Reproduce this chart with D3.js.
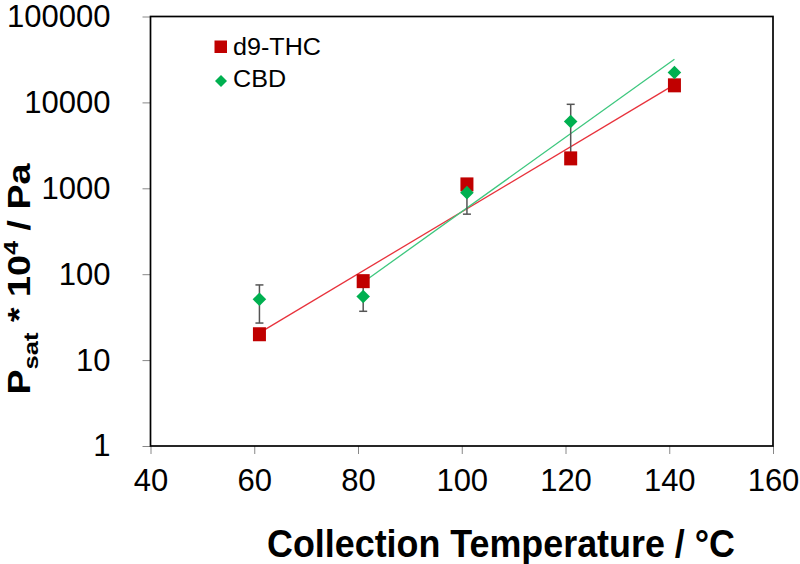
<!DOCTYPE html>
<html><head><meta charset="utf-8">
<script src="https://cdn.jsdelivr.net/npm/d3@7"></script>
<style>body{margin:0;background:#fff}svg{display:block;font-family:"Liberation Sans",Arial,sans-serif}</style>
</head><body>
<svg id="c" width="800" height="564"></svg>
<script>
const temps = [61, 81, 101, 121, 141];
const thcValues = [20, 83, 1110, 2230, 15800];
const cbdValues = [51, 55, 890, 6000, 22300];
const cbdErrors = [24, 18, 390, 3500, 0];
const cbdFitTemps = [81, 101, 121, 141];
const xTicks = [40, 60, 80, 100, 120, 140, 160];
const yTicks = [1, 10, 100, 1000, 10000, 100000];
const seriesNames = ["d9-THC", "CBD"];

const svg = d3.select("#c");
const L = 150.5, R = 773, T = 16.5, B = 446;
const x = d3.scaleLinear().domain([40, 160]).range([L, R]);
const y = d3.scaleLog().domain([1, 100000]).range([B, T]);

function fitWidth(inner, target) {
  const bb = inner.node().getBBox();
  return target / bb.width;
}

// ticks
const gx = svg.append("g").attr("transform", `translate(0,${B})`)
  .call(d3.axisBottom(x).tickValues(xTicks).tickSize(8).tickPadding(20).tickFormat(d3.format("d")));
const gy = svg.append("g").attr("transform", `translate(${L},0)`)
  .call(d3.axisLeft(y).tickValues(yTicks).tickSize(8).tickPadding(32).tickFormat(d3.format("d")));
[gx, gy].forEach(g => {
  g.select(".domain").remove();
  g.selectAll(".tick line").attr("stroke", "#888").attr("stroke-width", 1);
  g.selectAll(".tick text").attr("font-size", 31).attr("fill", "#000")
    .attr("font-family", "'Liberation Sans', Arial, sans-serif");
});
gx.selectAll(".tick text").attr("dy", "0.55em");

// frame
svg.append("rect").attr("x", L).attr("y", T).attr("width", R - L).attr("height", B - T)
  .attr("fill", "none").attr("stroke", "#000").attr("stroke-width", 1.7);

// regression (exponential fit = linear in log10)
function fit(xs, vs) {
  const ly = vs.map(v => Math.log10(v));
  const mx = d3.mean(xs), my = d3.mean(ly);
  const sxy = d3.sum(xs, (t, i) => (t - mx) * (ly[i] - my));
  const sxx = d3.sum(xs, t => (t - mx) ** 2);
  const b = sxy / sxx, a = my - b * mx;
  return t => Math.pow(10, a + b * t);
}
const thcFit = fit(temps, thcValues);
const cbdFitVals = cbdFitTemps.map(t => cbdValues[temps.indexOf(t)]);
const cbdFit = fit(cbdFitTemps, cbdFitVals);

const line = d3.line().x(d => x(d[0])).y(d => y(d[1]));
const tx = d3.extent(temps), cx = d3.extent(cbdFitTemps);
svg.append("path").attr("d", line(tx.map(t => [t, thcFit(t)])))
  .attr("stroke", "#E8323C").attr("stroke-width", 1.3).attr("fill", "none");
svg.append("path").attr("d", line(cx.map(t => [t, cbdFit(t)])))
  .attr("stroke", "#3DC77E").attr("stroke-width", 1.3).attr("fill", "none");

// error bars CBD
const eb = svg.append("g").attr("stroke", "#555").attr("stroke-width", 1.5);
temps.forEach((t, i) => {
  const e = cbdErrors[i];
  if (!e) return;
  const hi = y(cbdValues[i] + e), lo = y(Math.max(cbdValues[i] - e, 1));
  eb.append("line").attr("x1", x(t)).attr("x2", x(t)).attr("y1", hi).attr("y2", lo);
  [hi, lo].forEach(yy => eb.append("line").attr("x1", x(t) - 4).attr("x2", x(t) + 4).attr("y1", yy).attr("y2", yy));
});

// THC squares
svg.append("g").selectAll("rect").data(temps).join("rect")
  .attr("x", (t) => x(t) - 6.5).attr("y", (t, i) => y(thcValues[i]) - 7)
  .attr("width", 13).attr("height", 14).attr("fill", "#C00000");

// CBD diamonds
const dm = d3.symbol().type(d3.symbolSquare).size(92);
svg.append("g").selectAll("path").data(temps).join("path")
  .attr("d", dm)
  .attr("transform", (t, i) => `translate(${x(t)},${y(cbdValues[i])}) rotate(45)`)
  .attr("fill", "#00B050");

// legend
const lg = svg.append("g");
lg.append("rect").attr("x", 214.5).attr("y", 40.5).attr("width", 12.5).attr("height", 12.5).attr("fill", "#C00000");
lg.append("path").attr("d", d3.symbol().type(d3.symbolSquare).size(72))
  .attr("transform", "translate(221,81) rotate(45)").attr("fill", "#00B050");
const l1 = lg.append("text").attr("x", 0).attr("y", 0).attr("font-size", 24).text(seriesNames[0]);
const s1 = fitWidth(l1, 88);
l1.attr("transform", `translate(233,55) scale(${s1},1)`);
const l2 = lg.append("text").attr("x", 0).attr("y", 0).attr("font-size", 24).text(seriesNames[1]);
l2.attr("transform", `translate(233,87) scale(${s1},1)`);

// axis titles
const xt = svg.append("text").attr("x", 0).attr("y", 0).attr("text-anchor", "middle")
  .attr("font-size", 38).attr("font-weight", "bold").text("Collection Temperature / °C");
const sx = fitWidth(xt, 468);
xt.attr("transform", `translate(501,557) scale(${sx},1)`);

const yt = svg.append("text").attr("x", 0).attr("y", 0)
  .attr("text-anchor", "middle").attr("font-size", 31).attr("font-weight", "bold");
yt.append("tspan").text("P");
yt.append("tspan").attr("font-size", 21).attr("dy", 8).text("sat");
yt.append("tspan").attr("dy", -8).text(" * 10");
yt.append("tspan").attr("font-size", 21).attr("dy", -12).text("4");
yt.append("tspan").attr("dy", 12).text(" / Pa");
const sy = fitWidth(yt, 232);
yt.attr("transform", `translate(30,279) rotate(-90) scale(${sy},1)`);
</script>
</body></html>
